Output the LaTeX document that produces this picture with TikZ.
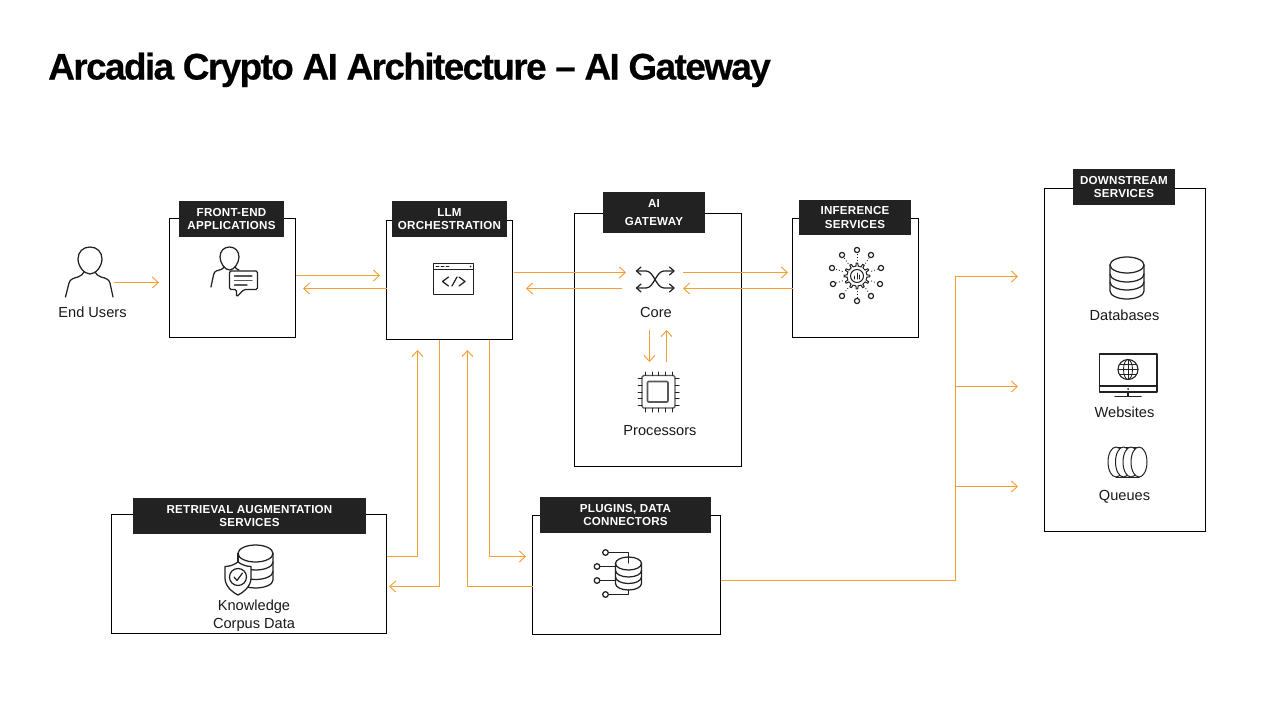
\documentclass[tikz,border=0pt]{standalone}
\usepackage{fontspec}
\setmainfont{Liberation Sans}
\newfontfamily\titlefont[LetterSpace=-4.4,FakeBold=0.4]{Liberation Sans Bold}
\newfontfamily\headfont[LetterSpace=2]{Liberation Sans Bold}
\usetikzlibrary{arrows.meta}
\definecolor{flowc}{HTML}{F59E33}
\definecolor{headc}{HTML}{222222}
\definecolor{iconc}{HTML}{222222}
\tikzset{
  x=1pt,y=-1pt,
  boxnode/.style={draw=black,line width=1.5pt,fill=white,inner sep=0pt,outer sep=0pt},
  headnode/.style={fill=headc,text=white,inner sep=0pt,outer sep=0pt,align=center,
    font=\fontsize{11.6}{13.6}\selectfont\headfont},
  lab/.style={font=\fontsize{14.6}{18.5}\selectfont,text=black!90,align=center,inner sep=0pt},
  flow/.style={draw=flowc,line width=1.25pt,-{Straight Barb[length=6pt,width=11pt,line width=0.9pt]}},
  ic/.style={draw=iconc,line width=1.25pt,line cap=round,line join=round},
}
\begin{document}
\begin{tikzpicture}
\useasboundingbox (0,0) rectangle (1280,720);
\fill[white] (0,0) rectangle (1280,720);
\node[anchor=base west,inner sep=0pt,font=\fontsize{37}{44}\selectfont\titlefont] (title) at (48,79.5) {Arcadia Crypto AI Architecture – AI Gateway};

% boxes
\node[boxnode,minimum width=126pt,minimum height=119pt] (fe) at (232.5,278) {};
\node[boxnode,minimum width=126pt,minimum height=119pt] (llm) at (449.5,280) {};
\node[boxnode,minimum width=167pt,minimum height=253pt] (gw) at (658,340) {};
\node[boxnode,minimum width=126pt,minimum height=119pt] (inf) at (855.5,278) {};
\node[boxnode,minimum width=161pt,minimum height=343pt] (ds) at (1125,360) {};
\node[boxnode,minimum width=275pt,minimum height=119pt] (rag) at (249,574) {};
\node[boxnode,minimum width=188pt,minimum height=119pt] (plg) at (626.5,575) {};

% headers
\node[headnode,minimum width=105pt,minimum height=36pt] (hfe) at (231.5,219) {FRONT-END\\APPLICATIONS};
\node[headnode,minimum width=115pt,minimum height=36pt] (hllm) at (449.5,219) {LLM\\ORCHESTRATION};
\node[headnode,minimum width=102pt,minimum height=41pt,font=\fontsize{11.6}{18.5}\selectfont\headfont] (hgw) at (654,212.5) {AI\\GATEWAY};
\node[headnode,minimum width=112pt,minimum height=35pt] (hinf) at (855,217.5) {INFERENCE\\SERVICES};
\node[headnode,minimum width=102pt,minimum height=36pt] (hds) at (1124,187) {DOWNSTREAM\\SERVICES};
\node[headnode,minimum width=233pt,minimum height=36pt] (hrag) at (249.5,516) {RETRIEVAL AUGMENTATION\\SERVICES};
\node[headnode,minimum width=171pt,minimum height=36pt] (hplg) at (625.5,515) {PLUGINS, DATA\\CONNECTORS};

% labels
\node[lab] (lu) at (92.5,312) {End Users};
\node[lab] (lc) at (656,312) {Core};
\node[lab] (lp) at (660,431) {Processors};
\node[lab] (ldb) at (1124.5,315) {Databases};
\node[lab] (lw) at (1124.5,412) {Websites};
\node[lab] (lq) at (1124.5,497) {Queues};
\node[lab] (lk) at (254,615.5) {Knowledge\\Corpus Data};

% connector end points
\coordinate (a1) at (114,282.5); \coordinate (a2) at (159,282.5);
\coordinate (b1) at (fe.east |- 0,275.5); \coordinate (b2) at (380,275.5);
\coordinate (c1) at (llm.west |- 0,288.5); \coordinate (c2) at (303,288.5);
\coordinate (d1) at (514,272.5); \coordinate (d2) at (626,272.5);
\coordinate (e1) at (622,288.5); \coordinate (e2) at (526,288.5);
\coordinate (f1) at (683,272.5); \coordinate (f2) at (788,272.5);
\coordinate (g1) at (inf.west |- 0,288.5); \coordinate (g2) at (683,288.5);
\coordinate (h1) at (649.5,330); \coordinate (h2) at (649.5,362);
\coordinate (i1) at (666.5,362); \coordinate (i2) at (666.5,330);
\coordinate (j1) at (439.5,339.5); \coordinate (j2) at (389,586.5);
\coordinate (k1) at (489.5,339.5); \coordinate (k2) at (526,556.5);
\coordinate (l1) at (rag.east |- 0,556.5); \coordinate (l2) at (417.5,350);
\coordinate (m1) at (plg.west |- 0,586.5); \coordinate (m2) at (467.5,350);
\coordinate (n1) at (plg.east |- 0,580.5); \coordinate (n0) at (955.5,580.5);
\coordinate (n2) at (1018,276.5); \coordinate (n3) at (1018,386.5); \coordinate (n4) at (1018,486.5);

\draw[flow] (a1) -- (a2);
\draw[flow,line width=0.8pt] (b1) -- (b2);
\draw[flow] (c1) -- (c2);
\draw[flow] (d1) -- (d2);
\draw[flow] (e1) -- (e2);
\draw[flow] (f1) -- (f2);
\draw[flow] (g1) -- (g2);
\draw[flow] (h1) -- (h2);
\draw[flow] (i1) -- (i2);
\draw[flow] (j1) |- (j2);
\draw[flow] (k1) |- (k2);
\draw[flow] (l1) -| (l2);
\draw[flow] (m1) -| (m2);
\draw[flow] (n1) -| (n2 -| n0) -- (n2);
\draw[flow] (n0 |- n3) -- (n3);
\draw[flow] (n0 |- n4) -- (n4);

% ---- icons ----
% end user
\begin{scope}[ic]
  \draw (90,247) .. controls (83,247) and (78,252) .. (78,259) .. controls (78,266) and (84,274) .. (90,274) .. controls (96,274) and (102,266) .. (102,259) .. controls (102,252) and (97,247) .. (90,247) -- cycle;
  \draw (65.5,297) -- (69,283) .. controls (70,279) and (74,278) .. (78,277) .. controls (81,276) and (83,274) .. (84,272);
  \draw (113,297) -- (110,283) .. controls (109,279) and (105,278) .. (101,277) .. controls (98,276) and (96,274) .. (95,272);
\end{scope}
% front end user + bubble
\begin{scope}[ic]
  \draw (229.5,247) .. controls (224,247) and (220,251) .. (220,257) .. controls (220,263) and (225,270) .. (229.5,270) .. controls (234,270) and (239,263) .. (239,257) .. controls (239,251) and (235,247) .. (229.5,247) -- cycle;
  \draw (211,287) -- (213.5,275) .. controls (214,271) and (218,270) .. (221,269.5) .. controls (222.5,269) and (223.5,268) .. (224,267);
  \draw (235,267) .. controls (235.5,268) and (237,269.5) .. (239,270);
  \draw[fill=white,rounded corners=1.5pt] (229.5,271) -- (257.5,271) -- (257.5,289.5) -- (244,289.5) -- (236.5,297) -- (236.5,289.5) -- (229.5,289.5) -- cycle;
  \draw[draw=iconc!75] (234.5,276) -- (252,276) (234.5,280.5) -- (252,280.5) (234.5,285) -- (247,285);
\end{scope}

% code window
\begin{scope}[ic]
  \draw (433.5,263.5) rectangle (473.5,294.5);
  \draw (433.5,269.5) -- (473.5,269.5);
  \draw[line width=0.8pt] (436,266.5) -- (439,266.5) (441,266.5) -- (444,266.5) (446,266.5) -- (449,266.5);
  \fill[iconc] (470.5,266.5) circle (0.9);
  \draw (448.5,277) -- (442.5,281.5) -- (448.5,286);
  \draw (459,277) -- (465,281.5) -- (459,286);
  \draw (457,277) -- (452,286);
\end{scope}

% shuffle icon
\begin{scope}[ic]
  \draw (637,271) -- (646,271) .. controls (654,271) and (656,288) .. (664,288) -- (673.5,288);
  \draw (637,288) -- (646,288) .. controls (654,288) and (656,271) .. (664,271) -- (673.5,271);
  \draw (641,267) -- (636.5,271) -- (641,275);
  \draw (641,284) -- (636.5,288) -- (641,292);
  \draw (669.5,267) -- (674,271) -- (669.5,275);
  \draw (669.5,284) -- (674,288) -- (669.5,292);
\end{scope}

% chip
\begin{scope}[ic,line width=1.4pt]
  \draw[rounded corners=1.5pt,draw=iconc!75] (642,375.5) rectangle (675,408);
  \draw[rounded corners=1pt,draw=iconc!75,line width=1.6pt] (647.5,381.5) rectangle (668,402);
  \foreach \v in {645,652,658,665,672} {\draw[line width=1pt] (\v,372) -- (\v,375.5); \draw[line width=1pt] (\v,408) -- (\v,412);}
  \foreach \v in {378,385,392,398,405} {\draw[line width=1pt] (638,\v) -- (642,\v); \draw[line width=1pt] (675,\v) -- (679,\v);}
\end{scope}

% inference icon
\begin{scope}[ic,line width=1pt,shift={(857,276)}]
  \foreach \a in {0,30,...,330} {
    \draw (\a-6:10) -- (\a-4:13) -- (\a+4:13) -- (\a+6:10) -- (\a+24:10);
  }
  \draw (0,0) circle (6.5);
  \draw[line width=1pt] (-2.5,3) -- (-2.5,0) (0,3) -- (0,-3) (2.5,3) -- (2.5,-1);
  \foreach \px/\py in {0/-26,-15/-21,14/-21,-25/-8,24/-8,-24/8,23/8,-15/20,14/20,0/25} {
    \draw[line width=0.8pt,line cap=butt,dash pattern=on 1pt off 2pt,shorten <=15pt,shorten >=3pt] (0,0) -- (\px,\py);
    \draw[line width=1.2pt,fill=white] (\px,\py) circle (2.6);
  }
\end{scope}

% database
\begin{scope}[ic]
  \draw (1127,265) ellipse (17 and 8);
  \draw (1110,265) -- (1110,291) arc[start angle=180,end angle=0,x radius=17,y radius=8] -- (1144,265);
  \draw (1110,274) arc[start angle=180,end angle=0,x radius=17,y radius=8];
  \draw (1110,282) arc[start angle=180,end angle=0,x radius=17,y radius=8];
\end{scope}

% monitor + globe
\begin{scope}[ic,line width=1.5pt]
  \draw (1099.5,354) rectangle (1157,392);
  \draw (1099.5,386) -- (1157,386);
  \fill[iconc] (1128,389) circle (1);
  \draw (1128,392) -- (1128,396);
  \draw (1115,396.5) -- (1141,396.5);
  \begin{scope}[line width=0.85pt]
    \draw[line width=1.1pt] (1128,369.5) circle (10);
    \draw (1128,369.5) ellipse (4.5 and 10);
    \draw (1128,359.5) -- (1128,379.5) (1118,369.5) -- (1138,369.5);
    \draw (1119.5,364.5) -- (1136.5,364.5) (1119.5,374.5) -- (1136.5,374.5);
  \end{scope}
\end{scope}

% queues
\begin{scope}[ic,line width=1pt]
  \draw (1116,447) -- (1139,447) (1116,477) -- (1139,477);
  \draw[fill=white] (1116,462) ellipse (8 and 15);
  \draw[fill=white] (1123.5,462) ellipse (8 and 15);
  \draw[fill=white] (1131,462) ellipse (8 and 15);
  \draw[fill=white] (1139,462) ellipse (8 and 15);
\end{scope}

% knowledge db + shield
\begin{scope}[ic]
  \draw (255.5,553.5) ellipse (17.5 and 8.5);
  \draw (273,553.5) -- (273,580) arc[start angle=0,end angle=120,x radius=17.5,y radius=8];
  \draw (238,553.5) -- (238,563);
  \draw (273,562) arc[start angle=0,end angle=120,x radius=17.5,y radius=8];
  \draw (273,571.5) arc[start angle=0,end angle=120,x radius=17.5,y radius=8];
  \draw[fill=white] (238,562) .. controls (234,565) and (229,566.5) .. (225,566.5) -- (225,578) .. controls (225,586) and (232,592) .. (238,595) .. controls (244,592) and (251,586) .. (251,578) -- (251,566.5) .. controls (247,566.5) and (242,565) .. (238,562) -- cycle;
  \draw (238,577) circle (8.5);
  \draw (234,577) -- (237,580.5) -- (242.5,573);
\end{scope}

% plugins db
\begin{scope}[ic]
  \draw (628.5,563.5) ellipse (13 and 6.5);
  \draw (615.5,563.5) -- (615.5,583.5) arc[start angle=180,end angle=0,x radius=13,y radius=6.5] -- (641.5,563.5);
  \draw (615.5,570.5) arc[start angle=180,end angle=0,x radius=13,y radius=6.5];
  \draw (615.5,577) arc[start angle=180,end angle=0,x radius=13,y radius=6.5];
  \draw (608.5,552.5) -- (628.5,552.5) -- (628.5,563);
  \draw (600,566.5) -- (615.5,566.5);
  \draw (600,580.5) -- (615.5,580.5);
  \draw (608.5,594.5) -- (628.5,594.5) -- (628.5,590);
  \draw[fill=white] (605.5,552.5) circle (2.8);
  \draw[fill=white] (597,566.5) circle (2.8);
  \draw[fill=white] (597,580.5) circle (2.8);
  \draw[fill=white] (605.5,594.5) circle (2.8);
\end{scope}
\end{tikzpicture}
\end{document}
